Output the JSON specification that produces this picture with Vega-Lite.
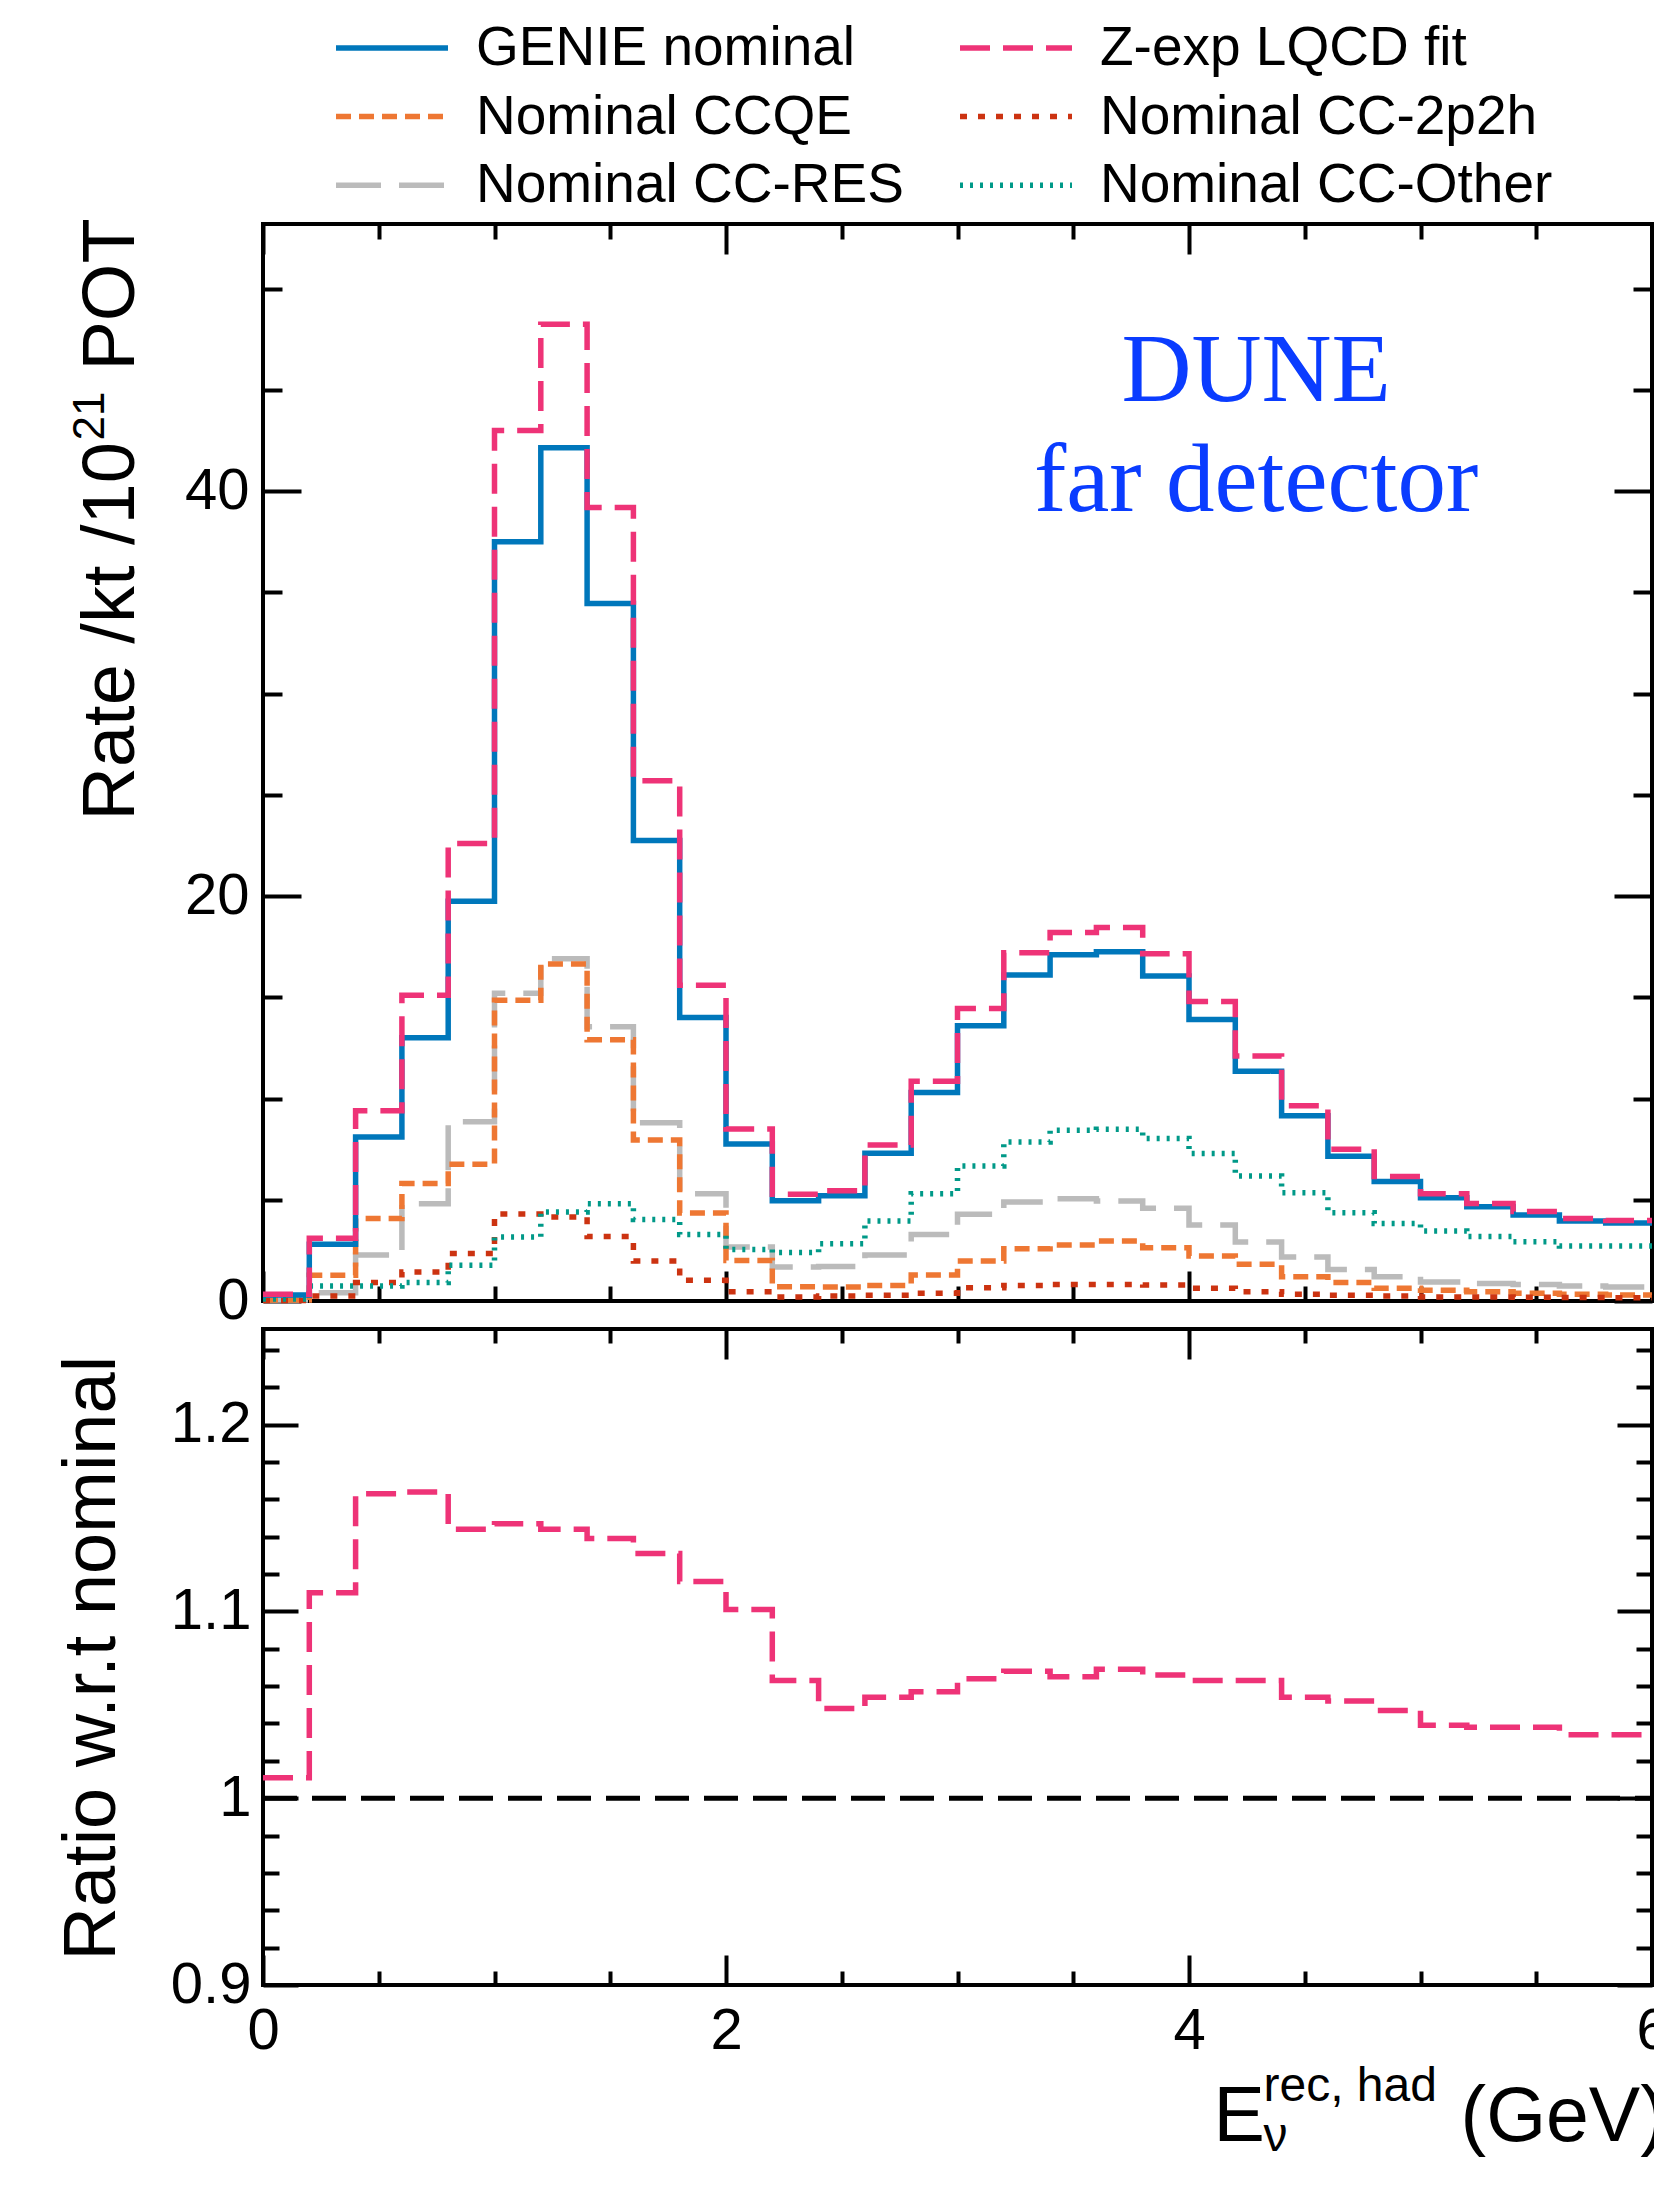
{
  "$schema": "https://vega.github.io/schema/vega-lite/v6.json",
  "background": "white",
  "padding": {"left": 53, "top": 20, "right": 0, "bottom": 0},
  "bounds": "flush",
  "spacing": 28,
  "config": {
    "view": {"stroke": "black", "strokeWidth": 4},
    "axis": {"domain": false, "grid": false, "tickColor": "black", "tickWidth": 4, "labelFont": "Liberation Sans", "labelFontSize": 58, "labelColor": "black", "titleFont": "Liberation Sans", "titleColor": "black", "titleFontWeight": "normal", "labelFlush": false, "labelOverlap": false, "labelBound": false, "titlePadding": 0}
  },
  "datasets": {
    "rates": [
      {"E": 0, "GENIE nominal": 0.3, "Z-exp LQCD fit": 0.33, "Nominal CCQE": 0.05, "Nominal CC-2p2h": 0.02, "Nominal CC-RES": 0.05, "Nominal CC-Other": 0.1},
      {"E": 0.2, "GENIE nominal": 2.8, "Z-exp LQCD fit": 3.1, "Nominal CCQE": 1.27, "Nominal CC-2p2h": 0.25, "Nominal CC-RES": 0.41, "Nominal CC-Other": 0.74},
      {"E": 0.4, "GENIE nominal": 8.1, "Z-exp LQCD fit": 9.4, "Nominal CCQE": 4.07, "Nominal CC-2p2h": 0.91, "Nominal CC-RES": 2.27, "Nominal CC-Other": 0.74},
      {"E": 0.6, "GENIE nominal": 13.0, "Z-exp LQCD fit": 15.1, "Nominal CCQE": 5.8, "Nominal CC-2p2h": 1.43, "Nominal CC-RES": 4.8, "Nominal CC-Other": 0.91},
      {"E": 0.8, "GENIE nominal": 19.75, "Z-exp LQCD fit": 22.6, "Nominal CCQE": 6.75, "Nominal CC-2p2h": 2.35, "Nominal CC-RES": 8.85, "Nominal CC-Other": 1.76},
      {"E": 1.0, "GENIE nominal": 37.5, "Z-exp LQCD fit": 43.0, "Nominal CCQE": 14.85, "Nominal CC-2p2h": 4.3, "Nominal CC-RES": 15.2, "Nominal CC-Other": 3.16},
      {"E": 1.2, "GENIE nominal": 42.15, "Z-exp LQCD fit": 48.25, "Nominal CCQE": 16.65, "Nominal CC-2p2h": 4.15, "Nominal CC-RES": 16.9, "Nominal CC-Other": 4.4},
      {"E": 1.4, "GENIE nominal": 34.45, "Z-exp LQCD fit": 39.2, "Nominal CCQE": 12.9, "Nominal CC-2p2h": 3.18, "Nominal CC-RES": 13.55, "Nominal CC-Other": 4.8},
      {"E": 1.6, "GENIE nominal": 22.75, "Z-exp LQCD fit": 25.7, "Nominal CCQE": 7.95, "Nominal CC-2p2h": 1.98, "Nominal CC-RES": 8.8, "Nominal CC-Other": 4.03},
      {"E": 1.8, "GENIE nominal": 14.0, "Z-exp LQCD fit": 15.6, "Nominal CCQE": 4.35, "Nominal CC-2p2h": 1.02, "Nominal CC-RES": 5.3, "Nominal CC-Other": 3.29},
      {"E": 2.0, "GENIE nominal": 7.75, "Z-exp LQCD fit": 8.5, "Nominal CCQE": 2.0, "Nominal CC-2p2h": 0.46, "Nominal CC-RES": 2.67, "Nominal CC-Other": 2.55},
      {"E": 2.2, "GENIE nominal": 4.95, "Z-exp LQCD fit": 5.27, "Nominal CCQE": 0.7, "Nominal CC-2p2h": 0.2, "Nominal CC-RES": 1.68, "Nominal CC-Other": 2.39},
      {"E": 2.4, "GENIE nominal": 5.2, "Z-exp LQCD fit": 5.45, "Nominal CCQE": 0.69, "Nominal CC-2p2h": 0.25, "Nominal CC-RES": 1.7, "Nominal CC-Other": 2.83},
      {"E": 2.6, "GENIE nominal": 7.3, "Z-exp LQCD fit": 7.7, "Nominal CCQE": 0.77, "Nominal CC-2p2h": 0.28, "Nominal CC-RES": 2.27, "Nominal CC-Other": 3.95},
      {"E": 2.8, "GENIE nominal": 10.3, "Z-exp LQCD fit": 10.85, "Nominal CCQE": 1.28, "Nominal CC-2p2h": 0.38, "Nominal CC-RES": 3.29, "Nominal CC-Other": 5.3},
      {"E": 3.0, "GENIE nominal": 13.6, "Z-exp LQCD fit": 14.45, "Nominal CCQE": 1.98, "Nominal CC-2p2h": 0.66, "Nominal CC-RES": 4.28, "Nominal CC-Other": 6.67},
      {"E": 3.2, "GENIE nominal": 16.1, "Z-exp LQCD fit": 17.2, "Nominal CCQE": 2.58, "Nominal CC-2p2h": 0.77, "Nominal CC-RES": 4.89, "Nominal CC-Other": 7.85},
      {"E": 3.4, "GENIE nominal": 17.1, "Z-exp LQCD fit": 18.2, "Nominal CCQE": 2.77, "Nominal CC-2p2h": 0.82, "Nominal CC-RES": 5.05, "Nominal CC-Other": 8.43},
      {"E": 3.6, "GENIE nominal": 17.25, "Z-exp LQCD fit": 18.45, "Nominal CCQE": 2.96, "Nominal CC-2p2h": 0.82, "Nominal CC-RES": 4.94, "Nominal CC-Other": 8.48},
      {"E": 3.8, "GENIE nominal": 16.05, "Z-exp LQCD fit": 17.15, "Nominal CCQE": 2.63, "Nominal CC-2p2h": 0.79, "Nominal CC-RES": 4.58, "Nominal CC-Other": 8.03},
      {"E": 4.0, "GENIE nominal": 13.9, "Z-exp LQCD fit": 14.8, "Nominal CCQE": 2.22, "Nominal CC-2p2h": 0.63, "Nominal CC-RES": 3.75, "Nominal CC-Other": 7.29},
      {"E": 4.2, "GENIE nominal": 11.35, "Z-exp LQCD fit": 12.1, "Nominal CCQE": 1.81, "Nominal CC-2p2h": 0.46, "Nominal CC-RES": 2.91, "Nominal CC-Other": 6.17},
      {"E": 4.4, "GENIE nominal": 9.15, "Z-exp LQCD fit": 9.65, "Nominal CCQE": 1.2, "Nominal CC-2p2h": 0.33, "Nominal CC-RES": 2.17, "Nominal CC-Other": 5.35},
      {"E": 4.6, "GENIE nominal": 7.15, "Z-exp LQCD fit": 7.5, "Nominal CCQE": 0.91, "Nominal CC-2p2h": 0.28, "Nominal CC-RES": 1.56, "Nominal CC-Other": 4.36},
      {"E": 4.8, "GENIE nominal": 5.9, "Z-exp LQCD fit": 6.15, "Nominal CCQE": 0.63, "Nominal CC-2p2h": 0.25, "Nominal CC-RES": 1.2, "Nominal CC-Other": 3.83},
      {"E": 5.0, "GENIE nominal": 5.1, "Z-exp LQCD fit": 5.3, "Nominal CCQE": 0.53, "Nominal CC-2p2h": 0.2, "Nominal CC-RES": 0.94, "Nominal CC-Other": 3.46},
      {"E": 5.2, "GENIE nominal": 4.65, "Z-exp LQCD fit": 4.82, "Nominal CCQE": 0.46, "Nominal CC-2p2h": 0.2, "Nominal CC-RES": 0.87, "Nominal CC-Other": 3.18},
      {"E": 5.4, "GENIE nominal": 4.25, "Z-exp LQCD fit": 4.42, "Nominal CCQE": 0.38, "Nominal CC-2p2h": 0.18, "Nominal CC-RES": 0.82, "Nominal CC-Other": 2.93},
      {"E": 5.6, "GENIE nominal": 3.95, "Z-exp LQCD fit": 4.08, "Nominal CCQE": 0.33, "Nominal CC-2p2h": 0.17, "Nominal CC-RES": 0.74, "Nominal CC-Other": 2.72},
      {"E": 5.8, "GENIE nominal": 3.85, "Z-exp LQCD fit": 3.98, "Nominal CCQE": 0.3, "Nominal CC-2p2h": 0.16, "Nominal CC-RES": 0.69, "Nominal CC-Other": 2.72},
      {"E": 6.0, "GENIE nominal": 3.85, "Z-exp LQCD fit": 3.98, "Nominal CCQE": 0.3, "Nominal CC-2p2h": 0.16, "Nominal CC-RES": 0.69, "Nominal CC-Other": 2.72}
    ],
    "ratio": [
      {"E": 0, "ratio": 1.011}, {"E": 0.2, "ratio": 1.110}, {"E": 0.4, "ratio": 1.163}, {"E": 0.6, "ratio": 1.164},
      {"E": 0.8, "ratio": 1.144}, {"E": 1.0, "ratio": 1.147}, {"E": 1.2, "ratio": 1.144}, {"E": 1.4, "ratio": 1.139},
      {"E": 1.6, "ratio": 1.131}, {"E": 1.8, "ratio": 1.116}, {"E": 2.0, "ratio": 1.101}, {"E": 2.2, "ratio": 1.063},
      {"E": 2.4, "ratio": 1.048}, {"E": 2.6, "ratio": 1.054}, {"E": 2.8, "ratio": 1.057}, {"E": 3.0, "ratio": 1.064},
      {"E": 3.2, "ratio": 1.068}, {"E": 3.4, "ratio": 1.065}, {"E": 3.6, "ratio": 1.069}, {"E": 3.8, "ratio": 1.066},
      {"E": 4.0, "ratio": 1.063}, {"E": 4.2, "ratio": 1.063}, {"E": 4.4, "ratio": 1.054}, {"E": 4.6, "ratio": 1.052},
      {"E": 4.8, "ratio": 1.047}, {"E": 5.0, "ratio": 1.039}, {"E": 5.2, "ratio": 1.038}, {"E": 5.4, "ratio": 1.038},
      {"E": 5.6, "ratio": 1.034}, {"E": 5.8, "ratio": 1.034}, {"E": 6.0, "ratio": 1.034}
    ]
  },
  "vconcat": [
    {
      "width": 1389,
      "height": 1077,
      "data": {"name": "rates"},
      "resolve": {"axis": {"x": "independent", "y": "independent"}},
      "layer": [
        {
          "transform": [
            {"fold": ["GENIE nominal", "Z-exp LQCD fit", "Nominal CCQE", "Nominal CC-2p2h", "Nominal CC-RES", "Nominal CC-Other"], "as": ["series", "rate"]},
            {"filter": "datum.series === 'Nominal CC-RES'"}
          ],
          "mark": {"type": "line", "interpolate": "step-after", "strokeWidth": 5.5, "strokeCap": "butt", "strokeJoin": "miter"},
          "encoding": {
            "x": {"field": "E", "type": "quantitative", "scale": {"domain": [0, 6], "nice": false, "zero": false},
              "axis": {"orient": "bottom", "values": [0, 0.5, 1, 1.5, 2, 2.5, 3, 3.5, 4, 4.5, 5, 5.5, 6], "tickSize": {"condition": {"test": "datum.value % 2 === 0", "value": -30}, "value": -15}, "labels": false, "title": null}},
            "y": {"field": "rate", "type": "quantitative", "scale": {"domain": [0, 53.2], "nice": false, "zero": false},
              "axis": {"orient": "left", "values": [0, 5, 10, 15, 20, 25, 30, 35, 40, 45, 50], "tickSize": {"condition": {"test": "datum.value % 20 === 0", "value": -38}, "value": -19}, "labelExpr": "datum.value % 20 === 0 ? format(datum.value, 'd') : ''", "labelPadding": 52, "title": "Rate /kt /10", "titleAngle": -90, "titleAlign": "left", "titleBaseline": "alphabetic", "titleFontSize": 74, "titleX": -130, "titleY": 596}},
            "color": {"field": "series", "type": "nominal",
              "scale": {"domain": ["GENIE nominal", "Nominal CCQE", "Nominal CC-RES", "Z-exp LQCD fit", "Nominal CC-2p2h", "Nominal CC-Other"], "range": ["#0077BB", "#EE7733", "#BBBBBB", "#EE3377", "#CC3311", "#009988"]},
              "legend": {"title": null, "orient": "none", "legendX": 70, "legendY": -204, "columns": 2, "columnPadding": 53, "rowPadding": 12.6, "symbolType": "stroke", "symbolSize": 12544, "symbolStrokeWidth": 5.5, "labelFontSize": 55, "labelFont": "Liberation Sans", "labelColor": "black", "labelOffset": 25, "padding": 0, "clipHeight": 56, "labelLimit": 0}},
            "strokeDash": {"field": "series", "type": "nominal",
              "scale": {"domain": ["GENIE nominal", "Nominal CCQE", "Nominal CC-RES", "Z-exp LQCD fit", "Nominal CC-2p2h", "Nominal CC-Other"], "range": [[1, 0], [15, 8], [45, 18], [30, 13], [7, 11], [3, 7]]},
              "legend": {"title": null, "orient": "none", "legendX": 70, "legendY": -204, "columns": 2, "columnPadding": 53, "rowPadding": 12.6, "symbolType": "stroke", "symbolSize": 12544, "symbolStrokeWidth": 5.5, "labelFontSize": 55, "labelFont": "Liberation Sans", "labelColor": "black", "labelOffset": 25, "padding": 0, "clipHeight": 56, "labelLimit": 0}}
          }
        },
        {
          "transform": [
            {"fold": ["GENIE nominal", "Z-exp LQCD fit", "Nominal CCQE", "Nominal CC-2p2h", "Nominal CC-RES", "Nominal CC-Other"], "as": ["series", "rate"]},
            {"filter": "datum.series === 'Nominal CCQE'"}
          ],
          "mark": {"type": "line", "interpolate": "step-after", "strokeWidth": 5.5, "strokeCap": "butt", "strokeJoin": "miter"},
          "encoding": {
            "x": {"field": "E", "type": "quantitative", "scale": {"domain": [0, 6], "nice": false, "zero": false},
              "axis": {"orient": "top", "values": [0, 0.5, 1, 1.5, 2, 2.5, 3, 3.5, 4, 4.5, 5, 5.5, 6], "tickSize": {"condition": {"test": "datum.value % 2 === 0", "value": -30}, "value": -15}, "labels": false, "title": "POT", "titleAngle": -90, "titleAlign": "left", "titleBaseline": "alphabetic", "titleFontSize": 74, "titleX": -130, "titleY": 146}},
            "y": {"field": "rate", "type": "quantitative", "scale": {"domain": [0, 53.2], "nice": false, "zero": false},
              "axis": {"orient": "right", "values": [0, 5, 10, 15, 20, 25, 30, 35, 40, 45, 50], "tickSize": {"condition": {"test": "datum.value % 20 === 0", "value": -38}, "value": -19}, "labels": false, "title": "21", "titleAngle": -90, "titleAlign": "left", "titleBaseline": "alphabetic", "titleFontSize": 44, "titleX": -1549, "titleY": 216}},
            "color": {"field": "series", "type": "nominal",
              "scale": {"domain": ["GENIE nominal", "Nominal CCQE", "Nominal CC-RES", "Z-exp LQCD fit", "Nominal CC-2p2h", "Nominal CC-Other"], "range": ["#0077BB", "#EE7733", "#BBBBBB", "#EE3377", "#CC3311", "#009988"]}},
            "strokeDash": {"field": "series", "type": "nominal",
              "scale": {"domain": ["GENIE nominal", "Nominal CCQE", "Nominal CC-RES", "Z-exp LQCD fit", "Nominal CC-2p2h", "Nominal CC-Other"], "range": [[1, 0], [15, 8], [45, 18], [30, 13], [7, 11], [3, 7]]}}
          }
        },
        {
          "transform": [
            {"fold": ["GENIE nominal", "Z-exp LQCD fit", "Nominal CCQE", "Nominal CC-2p2h", "Nominal CC-RES", "Nominal CC-Other"], "as": ["series", "rate"]},
            {"filter": "datum.series === 'Nominal CC-2p2h'"}
          ],
          "mark": {"type": "line", "interpolate": "step-after", "strokeWidth": 5.5, "strokeCap": "butt", "strokeJoin": "miter"},
          "encoding": {
            "x": {"field": "E", "type": "quantitative", "scale": {"domain": [0, 6], "nice": false, "zero": false}, "axis": null},
            "y": {"field": "rate", "type": "quantitative", "scale": {"domain": [0, 53.2], "nice": false, "zero": false}, "axis": null},
            "color": {"field": "series", "type": "nominal",
              "scale": {"domain": ["GENIE nominal", "Nominal CCQE", "Nominal CC-RES", "Z-exp LQCD fit", "Nominal CC-2p2h", "Nominal CC-Other"], "range": ["#0077BB", "#EE7733", "#BBBBBB", "#EE3377", "#CC3311", "#009988"]}},
            "strokeDash": {"field": "series", "type": "nominal",
              "scale": {"domain": ["GENIE nominal", "Nominal CCQE", "Nominal CC-RES", "Z-exp LQCD fit", "Nominal CC-2p2h", "Nominal CC-Other"], "range": [[1, 0], [15, 8], [45, 18], [30, 13], [7, 11], [3, 7]]}}
          }
        },
        {
          "transform": [
            {"fold": ["GENIE nominal", "Z-exp LQCD fit", "Nominal CCQE", "Nominal CC-2p2h", "Nominal CC-RES", "Nominal CC-Other"], "as": ["series", "rate"]},
            {"filter": "datum.series === 'Nominal CC-Other'"}
          ],
          "mark": {"type": "line", "interpolate": "step-after", "strokeWidth": 5.5, "strokeCap": "butt", "strokeJoin": "miter"},
          "encoding": {
            "x": {"field": "E", "type": "quantitative", "scale": {"domain": [0, 6], "nice": false, "zero": false}, "axis": null},
            "y": {"field": "rate", "type": "quantitative", "scale": {"domain": [0, 53.2], "nice": false, "zero": false}, "axis": null},
            "color": {"field": "series", "type": "nominal",
              "scale": {"domain": ["GENIE nominal", "Nominal CCQE", "Nominal CC-RES", "Z-exp LQCD fit", "Nominal CC-2p2h", "Nominal CC-Other"], "range": ["#0077BB", "#EE7733", "#BBBBBB", "#EE3377", "#CC3311", "#009988"]}},
            "strokeDash": {"field": "series", "type": "nominal",
              "scale": {"domain": ["GENIE nominal", "Nominal CCQE", "Nominal CC-RES", "Z-exp LQCD fit", "Nominal CC-2p2h", "Nominal CC-Other"], "range": [[1, 0], [15, 8], [45, 18], [30, 13], [7, 11], [3, 7]]}}
          }
        },
        {
          "transform": [
            {"fold": ["GENIE nominal", "Z-exp LQCD fit", "Nominal CCQE", "Nominal CC-2p2h", "Nominal CC-RES", "Nominal CC-Other"], "as": ["series", "rate"]},
            {"filter": "datum.series === 'GENIE nominal'"}
          ],
          "mark": {"type": "line", "interpolate": "step-after", "strokeWidth": 5.5, "strokeCap": "butt", "strokeJoin": "miter"},
          "encoding": {
            "x": {"field": "E", "type": "quantitative", "scale": {"domain": [0, 6], "nice": false, "zero": false}, "axis": null},
            "y": {"field": "rate", "type": "quantitative", "scale": {"domain": [0, 53.2], "nice": false, "zero": false}, "axis": null},
            "color": {"field": "series", "type": "nominal",
              "scale": {"domain": ["GENIE nominal", "Nominal CCQE", "Nominal CC-RES", "Z-exp LQCD fit", "Nominal CC-2p2h", "Nominal CC-Other"], "range": ["#0077BB", "#EE7733", "#BBBBBB", "#EE3377", "#CC3311", "#009988"]}},
            "strokeDash": {"field": "series", "type": "nominal",
              "scale": {"domain": ["GENIE nominal", "Nominal CCQE", "Nominal CC-RES", "Z-exp LQCD fit", "Nominal CC-2p2h", "Nominal CC-Other"], "range": [[1, 0], [15, 8], [45, 18], [30, 13], [7, 11], [3, 7]]}}
          }
        },
        {
          "transform": [
            {"fold": ["GENIE nominal", "Z-exp LQCD fit", "Nominal CCQE", "Nominal CC-2p2h", "Nominal CC-RES", "Nominal CC-Other"], "as": ["series", "rate"]},
            {"filter": "datum.series === 'Z-exp LQCD fit'"}
          ],
          "mark": {"type": "line", "interpolate": "step-after", "strokeWidth": 5.5, "strokeCap": "butt", "strokeJoin": "miter"},
          "encoding": {
            "x": {"field": "E", "type": "quantitative", "scale": {"domain": [0, 6], "nice": false, "zero": false}, "axis": null},
            "y": {"field": "rate", "type": "quantitative", "scale": {"domain": [0, 53.2], "nice": false, "zero": false}, "axis": null},
            "color": {"field": "series", "type": "nominal",
              "scale": {"domain": ["GENIE nominal", "Nominal CCQE", "Nominal CC-RES", "Z-exp LQCD fit", "Nominal CC-2p2h", "Nominal CC-Other"], "range": ["#0077BB", "#EE7733", "#BBBBBB", "#EE3377", "#CC3311", "#009988"]}},
            "strokeDash": {"field": "series", "type": "nominal",
              "scale": {"domain": ["GENIE nominal", "Nominal CCQE", "Nominal CC-RES", "Z-exp LQCD fit", "Nominal CC-2p2h", "Nominal CC-Other"], "range": [[1, 0], [15, 8], [45, 18], [30, 13], [7, 11], [3, 7]]}}
          }
        },
        {
          "data": {"values": [{}]},
          "mark": {"type": "text", "text": "DUNE", "font": "Liberation Serif", "fontSize": 97, "color": "#0a3cff", "align": "center", "baseline": "alphabetic"},
          "encoding": {
            "x": {"datum": 4.29, "type": "quantitative", "scale": {"domain": [0, 6], "nice": false, "zero": false}, "axis": null},
            "y": {"datum": 44.45, "type": "quantitative", "scale": {"domain": [0, 53.2], "nice": false, "zero": false}, "axis": null}
          }
        },
        {
          "data": {"values": [{}]},
          "mark": {"type": "text", "text": "far detector", "font": "Liberation Serif", "fontSize": 97, "color": "#0a3cff", "align": "center", "baseline": "alphabetic"},
          "encoding": {
            "x": {"datum": 4.29, "type": "quantitative", "scale": {"domain": [0, 6], "nice": false, "zero": false}, "axis": null},
            "y": {"datum": 39.04, "type": "quantitative", "scale": {"domain": [0, 53.2], "nice": false, "zero": false}, "axis": null}
          }
        }
      ]
    },
    {
      "width": 1389,
      "height": 656,
      "resolve": {"axis": {"x": "independent", "y": "independent"}},
      "layer": [
        {
          "data": {"values": [{}]},
          "mark": {"type": "rule", "color": "black", "strokeWidth": 5, "strokeDash": [34, 15]},
          "encoding": {
            "x": {"datum": 0, "type": "quantitative", "scale": {"domain": [0, 6], "nice": false, "zero": false},
              "axis": {"orient": "top", "values": [0, 0.5, 1, 1.5, 2, 2.5, 3, 3.5, 4, 4.5, 5, 5.5, 6], "tickSize": {"condition": {"test": "datum.value % 2 === 0", "value": -30}, "value": -14}, "labels": false, "title": "(GeV)", "titleAngle": 0, "titleAlign": "left", "titleBaseline": "alphabetic", "titleFontSize": 77, "titleX": 1197, "titleY": 811}},
            "x2": {"datum": 6},
            "y": {"datum": 1, "type": "quantitative", "scale": {"domain": [0.9, 1.2512], "nice": false, "zero": false},
              "axis": {"orient": "right", "values": [0.9, 0.92, 0.94, 0.96, 0.98, 1, 1.02, 1.04, 1.06, 1.08, 1.1, 1.12, 1.14, 1.16, 1.18, 1.2, 1.22, 1.24], "tickSize": {"condition": {"test": "abs(datum.value*10 - round(datum.value*10)) < 0.001", "value": -35}, "value": -16}, "labels": false, "title": ["rec, had", "ν"], "titleAngle": 0, "titleAlign": "left", "titleBaseline": "alphabetic", "titleFontSize": 48, "titleLineHeight": 50, "titleX": -389, "titleY": 771}}
          }
        },
        {
          "data": {"name": "ratio"},
          "mark": {"type": "line", "interpolate": "step-after", "color": "#EE3377", "strokeWidth": 5.5, "strokeDash": [30, 13], "strokeCap": "butt", "strokeJoin": "miter"},
          "encoding": {
            "x": {"field": "E", "type": "quantitative", "scale": {"domain": [0, 6], "nice": false, "zero": false},
              "axis": {"orient": "bottom", "values": [0, 0.5, 1, 1.5, 2, 2.5, 3, 3.5, 4, 4.5, 5, 5.5, 6], "tickSize": {"condition": {"test": "datum.value % 2 === 0", "value": -30}, "value": -14}, "labelExpr": "datum.value % 2 === 0 ? format(datum.value, 'd') : ''", "labelPadding": 47, "labelBaseline": "top", "title": "E", "titleAngle": 0, "titleAlign": "left", "titleBaseline": "alphabetic", "titleFontSize": 77, "titleX": 950, "titleY": 155}},
            "y": {"field": "ratio", "type": "quantitative", "scale": {"domain": [0.9, 1.2512], "nice": false, "zero": false},
              "axis": {"orient": "left", "values": [0.9, 0.92, 0.94, 0.96, 0.98, 1, 1.02, 1.04, 1.06, 1.08, 1.1, 1.12, 1.14, 1.16, 1.18, 1.2, 1.22, 1.24], "tickSize": {"condition": {"test": "abs(datum.value*10 - round(datum.value*10)) < 0.001", "value": -35}, "value": -16}, "labelExpr": "abs(datum.value*10 - round(datum.value*10)) < 0.001 ? format(datum.value, '~g') : ''", "labelPadding": 47, "title": "Ratio w.r.t nominal", "titleAngle": -90, "titleAlign": "left", "titleBaseline": "alphabetic", "titleFontSize": 74, "titleX": -149, "titleY": 631}}
          }
        }
      ]
    }
  ]
}
